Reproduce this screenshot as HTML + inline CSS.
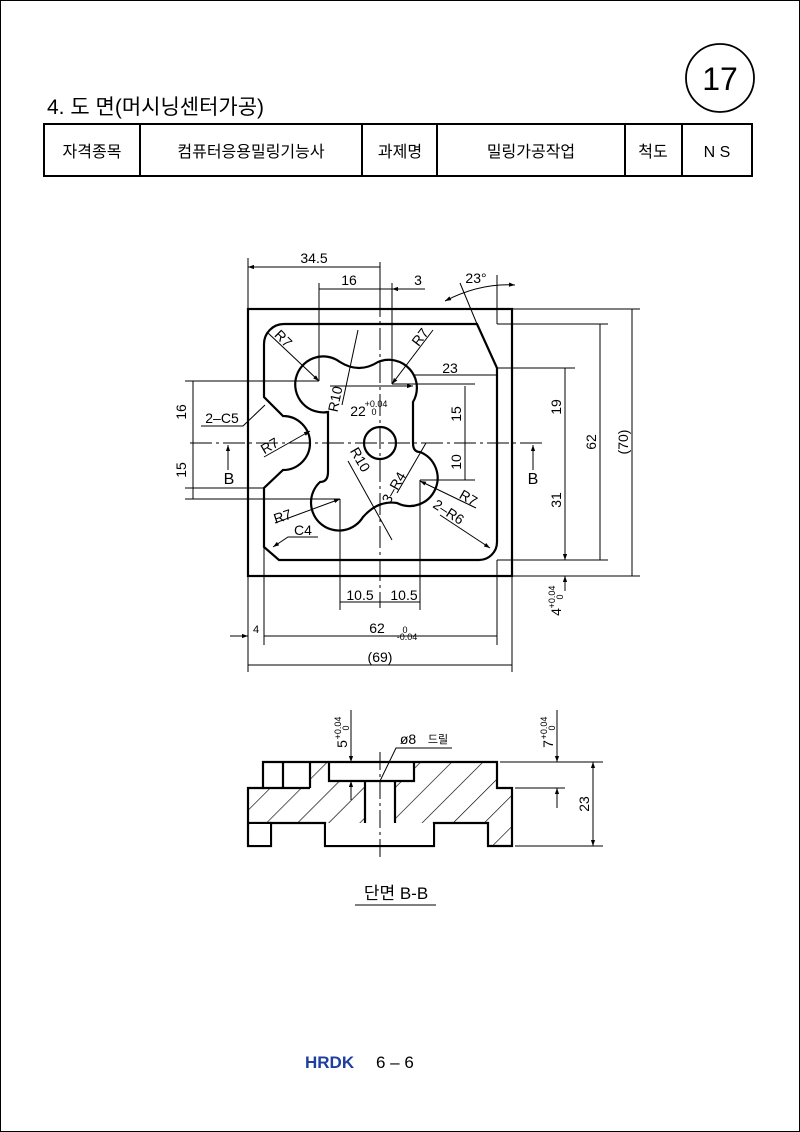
<!DOCTYPE html>
<html><head><meta charset="utf-8"><style>
html,body{margin:0;padding:0;background:#fff}
svg{display:block}
text{font-family:"Liberation Sans","Noto Sans CJK KR",sans-serif;fill:#000}
</style></head><body>
<svg width="800" height="1132" viewBox="0 0 800 1132" xmlns="http://www.w3.org/2000/svg">
<defs>
<marker id="a" viewBox="0 0 10 10" refX="10" refY="5" markerWidth="9" markerHeight="6" orient="auto-start-reverse" markerUnits="userSpaceOnUse"><path d="M0,1.5 L10,5 L0,8.5z" fill="#000"/></marker>
<pattern id="h" patternUnits="userSpaceOnUse" width="22" height="22" patternTransform="rotate(45)"><line x1="0" y1="0" x2="0" y2="22" stroke="#000" stroke-width="1.3"/></pattern>
</defs>
<rect x="0.5" y="0.5" width="799" height="1131" fill="none" stroke="#000" stroke-width="1"/>
<text x="47" y="114" font-size="21">4. 도 면(머시닝센터가공)</text>
<circle cx="720" cy="78" r="34" fill="none" stroke="#000" stroke-width="1.8"/>
<text x="720" y="90" font-size="32" text-anchor="middle">17</text>
<g stroke="#000" stroke-width="2" fill="none">
<rect x="44" y="124" width="708" height="52"/>
<path d="M140 124V176M362 124V176M437 124V176M625 124V176M682 124V176"/>
</g>
<g font-size="16" text-anchor="middle">
<text x="92" y="157">자격종목</text><text x="251" y="157">컴퓨터응용밀링기능사</text>
<text x="400" y="157">과제명</text><text x="531" y="157">밀링가공작업</text>
<text x="653" y="157">척도</text><text x="717" y="157">N S</text>
</g>

<!-- plan view -->
<g fill="none" stroke="#000">
<rect x="248" y="309" width="264" height="267" stroke-width="2.2"/>
<path stroke-width="2.2" d="M284 324 H477 L497 368 V542 A18 18 0 0 1 479 560 H279 L264 547 V488 L283 470 A27 27 0 0 0 283 416 L264 397 V344 A20 20 0 0 1 284 324Z"/>
<path stroke-width="2.2" d="M328 472 V412 A28 28 0 1 1 340 362 Q359 374 378 362 A28 28 0 0 1 413 402 V443 Q413 452 420 452 A28 28 0 1 1 397 503 Q378 500 363 517 A28 28 0 1 1 320 482 Q328 482 328 472Z"/>
<circle cx="380" cy="443" r="16" stroke-width="2.2"/>
<g stroke-width="1" stroke-dasharray="22 4 3 4">
<path d="M190 443H545M380 262V608"/>
</g>
<g stroke-width="1">
<path d="M319 283V381M392 283V384M380 262V300M248 258V309M497 275V324"/>
<path d="M185 381H319M185 499H340M185 488H264"/>
<path d="M512 309H640M497 324H608M497 368H575M497 560H608M512 576H640"/>
<path d="M392 384H475M420 480H475M413 375"/>
<path d="M340 499V610M420 480V610M264 547V645M497 560V645M248 576V672M512 576V672"/>
<path d="M477 324L460 283"/>
<path d="M445 301 Q480 283 515 285" marker-start="url(#a)" marker-end="url(#a)"/>
<g marker-start="url(#a)" marker-end="url(#a)">
<path d="M248 267H380M319 289H380M413 375H497M465 386V443M465 443V480M565 368V443M565 443V560M600 324V560M632 309V576M193 381V443M193 443V499M340 602H380M380 602H420M264 636H497M248 665H512M330 386H413"/>
</g>
<path d="M380 289H392" />
<path d="M392 289H425" marker-start="url(#a)"/>
<path d="M230 636H248" marker-end="url(#a)"/>
<path d="M565 545V560" marker-end="url(#a)"/>
<path d="M565 591V576" marker-end="url(#a)"/>
<path d="M228 470V445" marker-end="url(#a)"/>
<path d="M533 470V445" marker-end="url(#a)"/>
<!-- leaders -->
<path d="M268 333L319 381" marker-end="url(#a)"/>
<path d="M433 330L392 384" marker-end="url(#a)"/>
<path d="M358 330L342 405"/>
<path d="M264 457L310 431" marker-end="url(#a)"/>
<path d="M348 461L392 540"/>
<path d="M397 493L426 443"/>
<path d="M476 508L420 481" marker-end="url(#a)"/>
<path d="M440 515L490 548" marker-end="url(#a)"/>
<path d="M275 523L340 499" marker-end="url(#a)"/>
<path d="M318 537H288L273 547" marker-end="url(#a)"/>
<path d="M201 426H243L265 405"/>
</g>
</g>
<g font-size="14" text-anchor="middle">
<text x="314" y="263">34.5</text><text x="349" y="285">16</text><text x="418" y="285">3</text>
<text x="476" y="283">23°</text><text x="450" y="373">23</text>
<text x="358" y="416">22</text><text x="376" y="407" font-size="9">+0.04</text><text x="374" y="415" font-size="9">0</text>
<text x="404" y="600">10.5</text><text x="360" y="600">10.5</text>
<text x="377" y="633">62</text><text x="405" y="633" font-size="9">0</text><text x="407" y="640" font-size="9">-0.04</text>
<text x="256" y="633" font-size="11">4</text>
<text x="380" y="662">(69)</text>
<text x="222" y="423">2–C5</text>
<text x="229" y="484" font-size="16">B</text><text x="533" y="484" font-size="16">B</text>
<text x="303" y="535">C4</text>
<text transform="translate(186,412) rotate(-90)">16</text>
<text transform="translate(186,470) rotate(-90)">15</text>
<text transform="translate(461,414) rotate(-90)">15</text>
<text transform="translate(461,462) rotate(-90)">10</text>
<text transform="translate(561,407) rotate(-90)">19</text>
<text transform="translate(561,500) rotate(-90)">31</text>
<text transform="translate(596,442) rotate(-90)">62</text>
<text transform="translate(628,442) rotate(-90)">(70)</text>
<text transform="translate(561,612) rotate(-90)">4</text>
<text transform="translate(555,597) rotate(-90)" font-size="9">+0.04</text>
<text transform="translate(563,597) rotate(-90)" font-size="9">0</text>
<text transform="translate(280,342) rotate(45)">R7</text>
<text transform="translate(424,340) rotate(-53)">R7</text>
<text transform="translate(340,400) rotate(-78)">R10</text>
<text transform="translate(272,450) rotate(-30)">R7</text>
<text transform="translate(356,462) rotate(60)">R10</text>
<text transform="translate(398,490) rotate(-60)">3–R4</text>
<text transform="translate(466,502) rotate(30)">R7</text>
<text transform="translate(446,516) rotate(33)">2–R6</text>
<text transform="translate(284,521) rotate(-18)">R7</text>
</g>

<!-- section -->
<path fill="url(#h)" fill-rule="evenodd" d="M263 762H497V788H512V846H488V823H434V846H434V823H325V823H271V823H248V788H263Z M263 762H310V788H263Z M329 762H414V781H329Z M365 781H395V823H365Z"/>
<g fill="none" stroke="#000" stroke-width="2.2">
<path d="M263 762H497V788H512V846H488V823H434V846H325V823H271V846H248V788H263Z"/>
<path d="M263 788H310M283 762V788M310 762V788M329 762V781H414V762M365 781V823M395 781V823M248 823H271"/>
</g>
<rect x="250" y="824" width="20" height="21" fill="#fff"/>
<rect x="326" y="824" width="107" height="21" fill="#fff"/>
<g fill="none" stroke="#000" stroke-width="1">
<path d="M380 752V860" stroke-dasharray="18 4 3 4"/>
<path d="M500 762H603M515 788H565M515 846H603"/>
<path d="M351 710V762" marker-end="url(#a)"/>
<path d="M351 800V781" marker-end="url(#a)"/>
<path d="M557 710V762" marker-end="url(#a)"/>
<path d="M557 808V788" marker-end="url(#a)"/>
<path d="M593 762V846" marker-start="url(#a)" marker-end="url(#a)"/>
<path d="M380 781L396 748H452"/>
<path d="M355 905H436"/>
</g>
<g font-size="14" text-anchor="middle">
<text transform="translate(347,744) rotate(-90)">5</text>
<text transform="translate(341,728) rotate(-90)" font-size="9">+0.04</text>
<text transform="translate(349,728) rotate(-90)" font-size="9">0</text>
<text transform="translate(553,744) rotate(-90)">7</text>
<text transform="translate(547,728) rotate(-90)" font-size="9">+0.04</text>
<text transform="translate(555,728) rotate(-90)" font-size="9">0</text>
<text transform="translate(589,804) rotate(-90)">23</text>
<text x="408" y="744">ø8</text><text x="438" y="743" font-size="11">드릴</text>
<text x="396" y="899" font-size="17">단면 B-B</text>
</g>
<text x="305" y="1068" font-size="17" font-weight="bold" style="fill:#1f3f9f">HRDK</text>
<text x="376" y="1068" font-size="17">6 – 6</text>
</svg>
</body></html>
